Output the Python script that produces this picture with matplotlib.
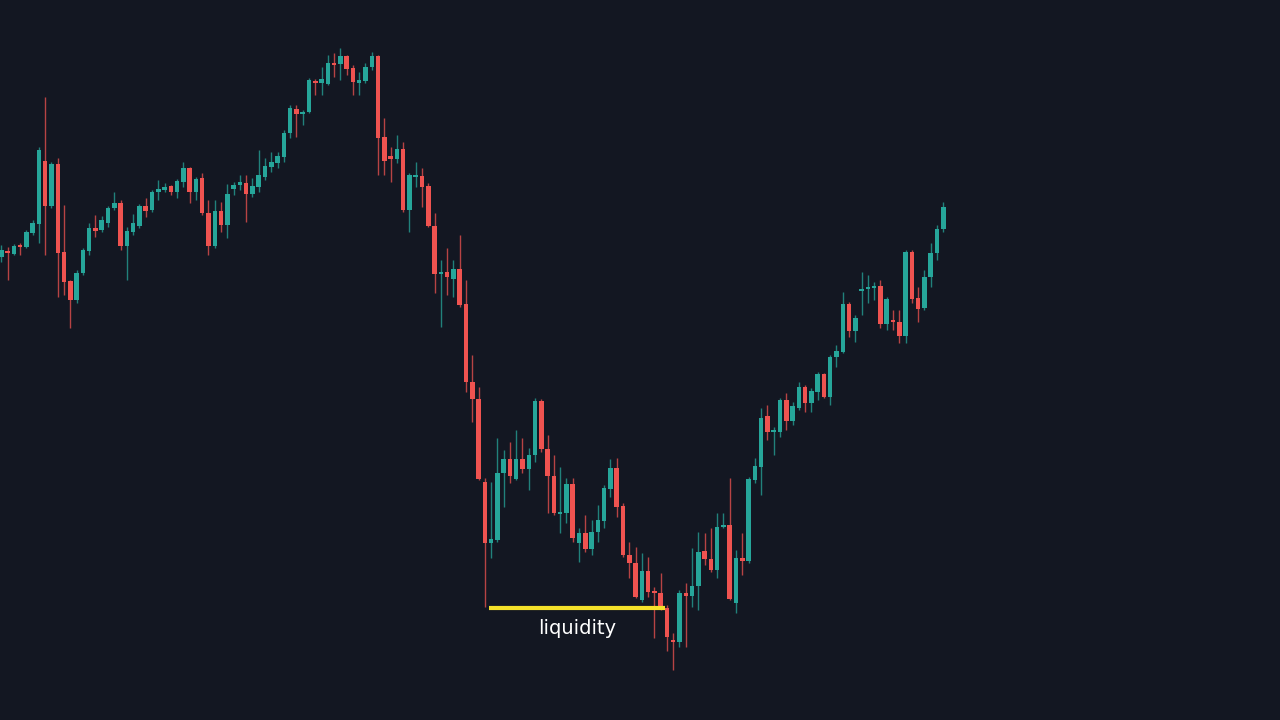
import matplotlib
matplotlib.use("Agg")
import matplotlib.pyplot as plt

# Chart levels (screen units: smaller = higher price)
opens = [257,251,254,245,247,233,224,161,206,164,252,281,300,273,251,228,230,223,208,203,246,232,226,206,210,192,190,186,192,182,168,192,178,213,246,211,225,189,185,183,194,187,177,167,163,157,133,109,114,112,81,83,84,63,64,56,68,83,81,67,56,137,156,159,149,210,177,176,186,226,274,272,279,269,304,382,399,482,543,540,473,459,479,459,469,455,401,449,476,513,513,484,543,533,549,532,521,489,468,506,555,563,600,571,591,593,608,640,642,593,596,586,551,559,570,527,525,603,558,561,480,467,416,431,432,400,421,408,387,403,392,374,397,357,352,304,331,290,289,287,286,324,320,322,336,252,298,308,277,253,229]
highs = [245,247,244,243,230,220,147,97,162,158,205,280,270,248,223,215,216,206,192,200,227,214,204,198,190,180,183,185,179,162,167,177,173,200,200,202,184,182,175,175,178,150,158,152,152,130,105,105,110,78,79,67,55,53,48,55,65,72,63,52,55,118,147,135,142,173,162,168,183,213,260,248,260,235,280,355,387,478,482,438,450,442,430,438,448,398,399,435,455,467,478,478,528,515,520,505,485,459,458,503,542,547,553,557,587,573,605,633,590,583,548,532,533,528,513,513,478,550,533,477,458,408,405,427,398,393,402,382,385,388,372,373,355,345,292,302,315,272,275,282,280,297,310,310,250,250,287,270,243,225,202]
lows = [262,280,255,255,248,235,243,255,208,297,295,328,303,275,255,237,232,227,210,250,280,235,228,217,212,200,192,195,198,187,203,200,215,255,248,232,238,195,190,222,197,192,180,172,168,162,138,137,125,113,95,95,85,77,80,75,95,95,83,70,175,175,182,163,212,232,187,207,227,293,327,295,297,307,392,422,480,607,558,542,507,483,480,473,490,462,452,513,515,533,523,542,562,552,555,542,528,497,517,557,578,598,602,597,638,610,651,670,647,647,607,610,565,572,578,528,600,613,575,563,483,495,440,455,437,430,425,410,412,412,400,398,405,367,353,337,342,315,303,300,328,330,330,343,343,303,322,310,287,260,232]
closes = [250,253,246,247,232,223,150,206,164,253,282,300,273,250,228,231,220,208,203,246,231,223,206,211,192,189,187,192,181,168,192,179,213,246,211,225,194,185,182,194,186,175,166,162,156,133,108,114,112,80,83,79,63,64,56,69,82,80,67,56,138,161,159,149,210,175,175,187,226,274,272,277,269,305,382,399,479,543,539,473,459,476,459,469,455,401,449,476,513,512,484,538,533,549,532,520,488,468,507,555,563,597,571,592,593,608,637,642,593,596,586,552,559,570,527,525,599,558,561,479,466,418,432,430,400,421,406,387,403,391,374,397,357,351,304,331,318,289,287,286,324,299,322,336,252,299,309,277,253,229,207]
liquidity_from, liquidity_to = 78, 106
liquidity_label = "liquidity"

BG = "#131722"
UP = "#26a69a"
DN = "#ef5350"

fig = plt.figure(figsize=(12.8, 7.2), dpi=100, facecolor=BG)
ax = fig.add_axes([0, 0, 1, 1], facecolor=BG)
step = 6.28
ax.set_xlim(-0.2, -0.2 + 1280 / step)
ax.set_ylim(720, 0)
ax.axis("off")

for i, (o, h, l, c) in enumerate(zip(opens, highs, lows, closes)):
    col = UP if c <= o else DN
    ax.vlines(i, h, l, color=col, lw=1, alpha=0.75)
    top, bot = min(o, c), max(o, c)
    ax.bar(i, max(bot - top, 1.5), bottom=top, width=0.72, color=col, linewidth=0)

lvl = lows[liquidity_from - 1 + 1] if False else lows[liquidity_from - 1]
lvl = lows[77]
ax.hlines(lvl + 1, liquidity_from - 0.3, liquidity_to - 0.3, color="#f5e12a", lw=3)
ax.text((liquidity_from + liquidity_to) / 2 - 0.3, lvl + 22, liquidity_label, color="white",
        fontsize=14, ha="center", va="center", family="DejaVu Sans")

fig.savefig("out.png", dpi=100, facecolor=BG)
